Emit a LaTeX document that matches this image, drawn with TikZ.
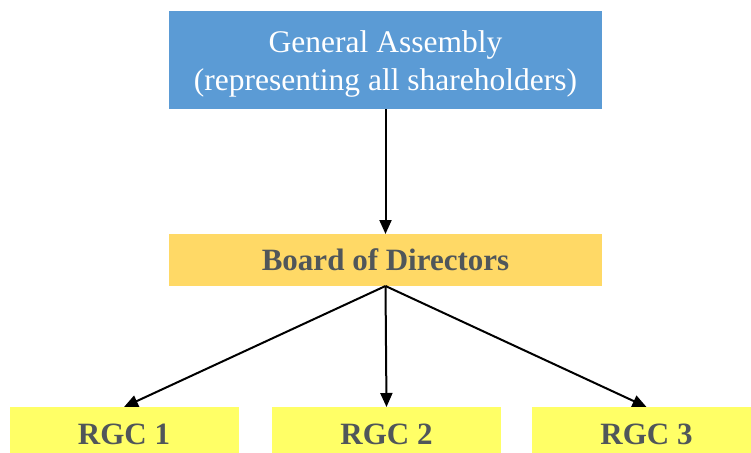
\documentclass[tikz,border=0pt]{standalone}
\usepackage{fontspec}
\setmainfont{Liberation Serif}
\usetikzlibrary{arrows.meta}
\definecolor{gablue}{HTML}{5B9BD5}
\definecolor{bdyellow}{HTML}{FFD966}
\definecolor{rgcyellow}{HTML}{FFFF66}
\definecolor{txtgray}{RGB}{80,86,90}
\tikzset{
  box/.style={inner sep=0pt, outer sep=0pt, align=center},
  conn/.style={line width=2pt, -{Triangle[length=14pt,width=12pt]}},
  rgc/.style={box, fill=rgcyellow, minimum width=229pt, minimum height=54pt, text=txtgray, font=\fontsize{31}{36}\selectfont\bfseries}
}
\begin{document}
\begin{tikzpicture}[x=1pt,y=-1pt]
\useasboundingbox (0,0) rectangle (751,452);
\begin{scope}
\clip (0,0) rectangle (751,452);
\node[box, fill=gablue, minimum width=433pt, minimum height=98pt] (ga) at (385.5,60) {};
\node[box, text=white, font=\fontsize{31.5}{38}\selectfont, anchor=base] (gat) at (385.5,90) {General Assembly\\(representing all shareholders)};
\node[box, fill=bdyellow, minimum width=433pt, minimum height=52pt, text=txtgray, font=\fontsize{31}{36}\selectfont\bfseries] (bd) at (385.5,260) {Board of Directors};
\node[rgc] (r1) at (124,434) {RGC 1};
\node[rgc] (r2) at (386.5,434) {RGC 2};
\node[rgc] (r3) at (646.5,434) {RGC 3};
\end{scope}
\draw[conn] (ga.south) -- (bd.north);
\draw[conn] (bd.south) -- (r1.north);
\draw[conn] (bd.south) -- (r2.north);
\draw[conn] (bd.south) -- (r3.north);
\end{tikzpicture}
\end{document}
